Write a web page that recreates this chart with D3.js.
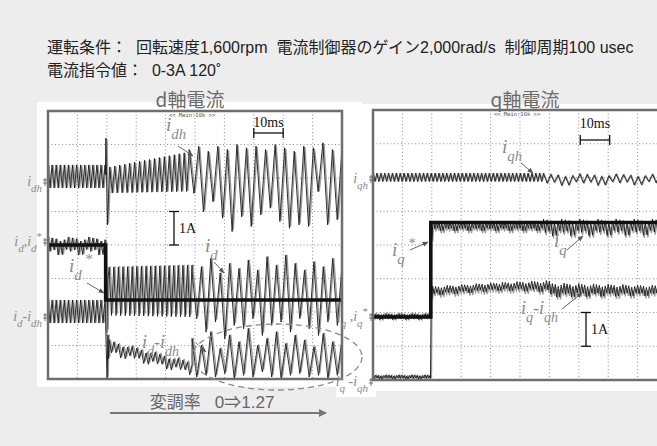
<!DOCTYPE html>
<html>
<head>
<meta charset="utf-8">
<script src="https://cdn.jsdelivr.net/npm/d3@7"></script>
<style>
body { margin: 0; background: #ededed; }
svg { display: block; }
</style>
</head>
<body>
<svg id="chart" width="657" height="446"></svg>
<script>
// ---- texts ----
const headLines = ['運転条件：  回転速度1,600rpm  電流制御器のゲイン2,000rad/s  制御周期100 usec', '電流指令値：  0-3A 120˚']
const panelTitles = ['d軸電流', 'q軸電流']
const footText = '変調率   0⇒1.27'
const scopeTag = '<< Main:10k >>'

// ---- scope data: time in ms (10 ms/div), current in A (1 A/div) ----
// channel offsets, in divisions above the bottom of the screen
const dOffsets = [6.0, 4.0, 1.91]      // i_dh, i_d, i_d - i_dh
const qOffsets = [5.96, 1.87, 0.0]     // i_qh, i_q, i_q - i_qh

// ripple segments: [t0, t1, peakStart, peakEnd, troughStart, troughEnd, cycles]
const idhRipple = [[0, 19.4, 0.39, 0.39, -0.30, -0.30, 14], [21, 48, 0.33, 0.78, -0.45, -0.40, 16]]
const idhStep = [[19.5, 0.1], [19.7, 1.19], [19.9, 0.2], [20.2, -1.4], [20.6, -0.5]]
const idhPeaks = [0.85, 0.95, 0.8, 0.95, 0.85, 1.0, 0.9, 0.95, 0.85, 1.0, 0.9, 0.8, 0.95, 0.9, 1.05, 0.85, 0.9]
const idhTroughs = [-0.46, -1.01, -0.71, -1.20, -1.60, -1.16, -1.45, -1.10, -0.90, -1.30, -1.50, -1.40, -1.45, -0.41, -1.40, -1.25]

const idRipple = [[0, 19.4, 0.24, 0.24, -0.30, -0.30, 14], [20.8, 49, -0.66, -0.6, -2.1, -2.15, 18]]
const idStep = [[19.5, 0.1], [19.8, -1.2], [20.1, -2.6], [20.4, -1.0]]
const idPeaks = [-0.80, -0.65, -0.40, -0.84, -0.55, -0.70, -0.45, -0.75, -0.35, -0.60, -0.30, -0.55, -0.75, -0.50, -0.65, -0.40, -0.60]
const idTroughs = [-2.2, -2.6, -2.3, -2.8, -2.4, -2.5, -2.2, -2.7, -2.4, -2.3, -2.6, -2.2, -2.5, -2.7, -2.3, -2.4]
const idRef = [[0, 0], [19.6, 0], [19.6, -1.64], [100, -1.64]]

const dDiffRipple = [[0, 19.4, 0.45, 0.45, -0.24, -0.24, 14], [20.8, 49, -0.75, -1.4, -1.2, -1.8, 18]]
const dDiffStep = [[19.5, 0.2], [19.8, -1.0], [20.1, -1.9], [20.4, -0.6], [20.6, -1.3]]
const dDiffPeaks = [-0.7, -0.9, -0.5, -1.0, -0.6, -0.8, -0.4, -0.9, -0.7, -0.5, -0.85, -0.6, -0.75, -0.95, -0.55, -0.8, -0.7]
const dDiffTroughs = [-1.85, -1.8, -1.85, -1.75, -1.9, -1.8, -1.85, -1.7, -1.85, -1.9, -1.8, -1.75, -1.85, -1.8, -1.9, -1.8]

const iqhRipple = [[0, 58, 0.17, 0.17, -0.08, -0.08, 44], [58, 100, 0.15, 0.14, -0.2, -0.18, 17]]
const iqRipple = [[0, 19.5, 0.1, 0.1, -0.08, -0.08, 22], [20.6, 58, 2.84, 2.84, 2.55, 2.55, 40], [58, 100, 2.9, 2.9, 2.4, 2.42, 34]]
const iqStep = [[19.6, 0.05], [19.7, 2.8], [20.0, 2.3], [20.3, 2.7]]
const iqRef = [[0, 0], [19.65, 0], [19.65, 2.8], [100, 2.8]]
const qDiffRipple = [[0, 19.4, 0.15, 0.15, 0.02, 0.02, 22], [20.3, 44, 2.78, 2.9, 2.5, 2.65, 24], [44, 60, 2.9, 2.95, 2.65, 2.6, 16], [60, 100, 2.88, 2.8, 2.45, 2.5, 40]]
const qDiffStep = [[19.55, 0.05], [19.8, 2.7], [20.0, 2.45]]

// relative peak heights of the noisy ripple
const noiseShape = [1, 0.6, 0.9, 0.45, 0.8, 1, 0.55, 0.95, 0.7, 0.4]

// ---- helpers ----
function zig(seg, shape) {
  const [t0, t1, hi0, hi1, lo0, lo1, n] = seg
  const pts = []
  for (let k = 0; k <= 2 * n; k++) {
    const f = k / (2 * n)
    const hi = hi0 + (hi1 - hi0) * f, lo = lo0 + (lo1 - lo0) * f
    const s = shape ? shape[k % shape.length] : 1
    pts.push([t0 + (t1 - t0) * f, (hi + lo) / 2 + (k % 2 ? -1 : 1) * (hi - lo) / 2 * s])
  }
  return pts
}
function alt(t0, t1, peaks, troughs) {
  const vals = []
  peaks.forEach((p, i) => { vals.push(p); if (i < troughs.length) vals.push(troughs[i]) })
  return vals.map((v, i) => [t0 + (t1 - t0) * i / (vals.length - 1), v])
}

const svg = d3.select('#chart')
svg.append('rect').attr('width', 657).attr('height', 446).attr('fill', '#ededed')

svg.append('defs').append('marker')
  .attr('id', 'ah').attr('viewBox', '0 0 10 10').attr('refX', 9).attr('refY', 5)
  .attr('markerWidth', 6).attr('markerHeight', 6).attr('orient', 'auto')
  .append('path').attr('d', 'M0,1L10,5L0,9z').attr('fill', '#555')
svg.select('defs').append('marker')
  .attr('id', 'ah2').attr('viewBox', '0 0 10 10').attr('refX', 9).attr('refY', 5)
  .attr('markerWidth', 4).attr('markerHeight', 4).attr('orient', 'auto')
  .append('path').attr('d', 'M0,0L10,5L0,10z').attr('fill', '#777')

// header
svg.selectAll('.head').data(headLines).enter().append('text')
  .attr('x', 47).attr('y', (d, i) => 53 + i * 23)
  .attr('font-family', '"Liberation Sans", "Noto Sans CJK JP", sans-serif')
  .attr('font-size', 16).attr('fill', '#222').style('white-space', 'pre')
  .text(d => d)

// white panels
svg.append('rect').attr('x', 37).attr('y', 102).attr('width', 325).attr('height', 285).attr('fill', '#fff')
svg.append('rect').attr('x', 362).attr('y', 104).attr('width', 295).attr('height', 287).attr('fill', '#fff')
svg.append('rect').attr('x', 336).attr('y', 378).attr('width', 40).attr('height', 19).attr('fill', '#fff')

svg.selectAll('.ptitle').data(panelTitles).enter().append('text')
  .attr('x', (d, i) => [190, 525][i]).attr('y', 107).attr('text-anchor', 'middle')
  .attr('font-family', '"Noto Sans CJK JP", sans-serif').attr('font-size', 19).attr('fill', '#6a6a6a')
  .text(d => d)

function scope(id, left, top, w, h) {
  const x = d3.scaleLinear().domain([0, 100]).range([left, left + w])
  const y = d3.scaleLinear().domain([0, 8]).range([top + h, top])
  const g = svg.append('g')
  g.append('clipPath').attr('id', id).append('rect').attr('x', left).attr('y', top).attr('width', w).attr('height', h)
  g.selectAll('.vg').data(d3.range(10, 100, 10)).enter().append('line')
    .attr('x1', d => x(d)).attr('x2', d => x(d)).attr('y1', top).attr('y2', top + h)
    .attr('stroke', '#8f8f8f').attr('stroke-dasharray', '1,2.5')
  g.selectAll('.hg').data(d3.range(1, 8)).enter().append('line')
    .attr('y1', d => y(d)).attr('y2', d => y(d)).attr('x1', left).attr('x2', left + w)
    .attr('stroke', '#8f8f8f').attr('stroke-dasharray', '1,2.5')
  g.append('text').attr('x', x(49)).attr('y', top + 6).attr('text-anchor', 'middle')
    .attr('font-family', '"DejaVu Sans Mono", monospace').attr('font-size', 5.5).attr('fill', '#555')
    .text(scopeTag)
  const plot = g.append('g').attr('clip-path', `url(#${id})`)
  return { x, y, g, plot, left, top, w, h }
}

function trace(sc, offset, pts, opts) {
  const o = Object.assign({ shift: 0.4, ref: false }, opts || {})
  const line = d3.line().x(d => sc.x(d[0])).y(d => sc.y(offset + d[1]))
  if (o.ref) {
    sc.plot.append('path').attr('d', line(pts)).attr('fill', 'none').attr('stroke', '#111').attr('stroke-width', 3.5)
    return
  }
  const gline = d3.line().x(d => sc.x(d[0] + o.shift)).y(d => sc.y(offset + d[1] * 0.97))
  sc.plot.append('path').attr('d', gline(pts)).attr('fill', 'none').attr('stroke', '#9a9a9a').attr('stroke-width', 1.3)
  sc.plot.append('path').attr('d', line(pts)).attr('fill', 'none').attr('stroke', '#1a1a1a').attr('stroke-width', 0.9)
}

// ---- d axis scope ----
const dS = scope('clipD', 48, 111, 294, 268)
trace(dS, dOffsets[0], [].concat(zig(idhRipple[0]), idhStep, zig(idhRipple[1]), alt(48, 100, idhPeaks, idhTroughs)))
trace(dS, dOffsets[1], [].concat(zig(idRipple[0], noiseShape), idStep, zig(idRipple[1]), alt(49, 100, idPeaks, idTroughs)))
trace(dS, dOffsets[2], [].concat(zig(dDiffRipple[0]), dDiffStep, zig(dDiffRipple[1], noiseShape), alt(49, 100, dDiffPeaks, dDiffTroughs)))
trace(dS, dOffsets[1], idRef, { ref: true })

// ---- q axis scope ----
const qS = scope('clipQ', 373, 110, 294, 270)
trace(qS, qOffsets[0], [].concat(zig(iqhRipple[0]), zig(iqhRipple[1], noiseShape)), { shift: 0.25 })
trace(qS, qOffsets[1], [].concat(zig(iqRipple[0], noiseShape), iqStep, zig(iqRipple[1], noiseShape), zig(iqRipple[2], noiseShape)), { shift: 0.3 })
trace(qS, qOffsets[2], [].concat(zig(qDiffRipple[0], noiseShape), qDiffStep, zig(qDiffRipple[1], noiseShape), zig(qDiffRipple[2], noiseShape), zig(qDiffRipple[3], noiseShape)), { shift: 0.3 })
trace(qS, qOffsets[1], iqRef, { ref: true })

// frames
svg.append('rect').attr('x', 48).attr('y', 111).attr('width', 294).attr('height', 268)
  .attr('fill', 'none').attr('stroke', '#6e6e6e').attr('stroke-width', 2.5)
svg.append('rect').attr('x', 373).attr('y', 110).attr('width', 294).attr('height', 270)
  .attr('fill', 'none').attr('stroke', '#6e6e6e').attr('stroke-width', 2.5)

// scale bars: 10 ms and 1 A
function scaleBars(sc, tStart, tyText, ty, aX, aY0) {
  const x0 = sc.x(tStart), x1 = sc.x(tStart + 10)
  const g = svg.append('g').attr('stroke', '#111').attr('stroke-width', 1.3)
  g.append('line').attr('x1', x0).attr('x2', x1).attr('y1', ty).attr('y2', ty)
  g.append('line').attr('x1', x0).attr('x2', x0).attr('y1', ty - 5).attr('y2', ty + 5)
  g.append('line').attr('x1', x1).attr('x2', x1).attr('y1', ty - 5).attr('y2', ty + 5)
  const ya = sc.y(aY0), yb = sc.y(aY0 + 1)
  g.append('line').attr('x1', aX).attr('x2', aX).attr('y1', ya).attr('y2', yb)
  g.append('line').attr('x1', aX - 5).attr('x2', aX + 5).attr('y1', ya).attr('y2', ya)
  g.append('line').attr('x1', aX - 5).attr('x2', aX + 5).attr('y1', yb).attr('y2', yb)
  svg.append('text').attr('x', (x0 + x1) / 2).attr('y', tyText).attr('text-anchor', 'middle')
    .attr('font-family', '"Liberation Serif", serif').attr('font-size', 14).attr('fill', '#111').text('10ms')
  svg.append('text').attr('x', aX + 5).attr('y', (ya + yb) / 2 + 5)
    .attr('font-family', '"Liberation Serif", serif').attr('font-size', 14).attr('fill', '#111').text('1A')
}
scaleBars(dS, 70, 127, 133, 174, 4.0)
scaleBars(qS, 70.5, 128, 140, 586, 1.0)

// ---- labels ----
function label(x, y, parts, size, anchor) {
  const t = svg.append('text').attr('x', x).attr('y', y)
    .attr('font-family', '"Liberation Serif", serif').attr('font-style', 'italic')
    .attr('font-size', size).attr('fill', '#8a8a8a').attr('text-anchor', anchor || 'start')
  let off = 0
  parts.forEach(p => {
    const target = p[1] === 1 ? size * 0.42 : p[1] === 2 ? -size * 0.4 : 0
    t.append('tspan').attr('dy', target - off).attr('font-size', p[1] ? size * 0.78 : size)
      .attr('font-style', p[0].trim() === '*' ? 'normal' : null).text(p[0])
    off = target
  })
}
function arrow(x1, y1, x2, y2, dash) {
  svg.append('line').attr('x1', x1).attr('y1', y1).attr('x2', x2).attr('y2', y2)
    .attr('stroke', '#666').attr('stroke-width', 1).attr('marker-end', 'url(#ah)')
    .attr('stroke-dasharray', dash ? '3,2' : null)
}
function ground(x, y) {
  svg.append('path').attr('d', `M${x - 5},${y - 2}h4M${x - 5},${y + 1}h4M${x - 3},${y - 4}v8`)
    .attr('stroke', '#555').attr('stroke-width', 0.8).attr('fill', 'none')
}

label(166, 131, [['i', 0], ['dh', 1]], 19)
arrow(178, 146, 193, 156)
label(205, 252, [['i', 0], ['d', 1]], 19)
arrow(214, 262, 224, 273)
label(69, 272, [['i', 0], ['d', 1], [' *', 2]], 19)
arrow(87, 283, 104, 293)
label(142, 348, [['i', 0], ['d', 1], ['-', 0], ['i', 0], ['dh', 1]], 18)
arrow(196, 343, 206, 352, true)

label(502, 153, [['i', 0], ['qh', 1]], 19)
arrow(521, 163, 533, 173)
label(392, 256, [['i', 0], ['q', 1], [' *', 2]], 19)
arrow(410, 250, 428, 242)
label(554, 247, [['i', 0], ['q', 1]], 19)
arrow(567, 250, 583, 236)
label(521, 314, [['i', 0], ['q', 1], ['-', 0], ['i', 0], ['qh', 1]], 18)
arrow(562, 309, 582, 293)

// channel names beside the screens
const sideLabels = [
  [42, 186, [['i', 0], ['dh', 1]]],
  [42, 246, [['i', 0], ['d', 1], [',', 0], ['i', 0], ['d', 1], ['*', 2]]],
  [42, 321, [['i', 0], ['d', 1], ['-', 0], ['i', 0], ['dh', 1]]],
  [368, 183, [['i', 0], ['qh', 1]]],
  [368, 321, [['i', 0], ['q', 1], [' ,', 0], ['i', 0], ['q', 1], ['*', 2]]],
  [368, 386, [['i', 0], ['q', 1], [' -', 0], ['i', 0], ['qh', 1]]]
]
sideLabels.forEach(d => { label(d[0], d[1], d[2], 14, 'end'); ground(d[0] + 6, d[1] - 4) })

// dashed ellipse around the over-modulated part
svg.append('ellipse').attr('cx', 277).attr('cy', 357).attr('rx', 85).attr('ry', 33)
  .attr('fill', 'none').attr('stroke', '#8a8a8a').attr('stroke-width', 1.3).attr('stroke-dasharray', '6,4')

// footer: modulation index arrow
svg.append('text').attr('x', 212).attr('y', 408).attr('text-anchor', 'middle')
  .attr('font-family', '"Liberation Sans", "Noto Sans CJK JP", sans-serif').attr('font-size', 17)
  .attr('fill', '#666').style('white-space', 'pre').text(footText)
svg.append('line').attr('x1', 110).attr('x2', 326).attr('y1', 413).attr('y2', 413)
  .attr('stroke', '#777').attr('stroke-width', 2).attr('marker-end', 'url(#ah2)')
</script>
</body>
</html>
